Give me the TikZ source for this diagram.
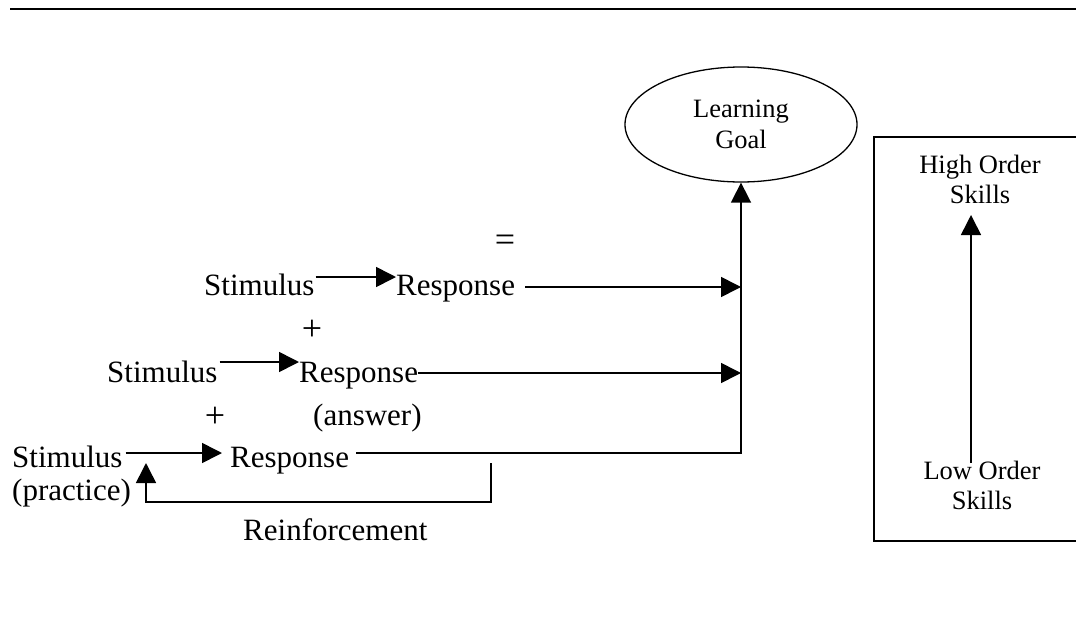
\documentclass[tikz,border=0pt]{standalone}
\usepackage{fontspec}
\setmainfont{Liberation Serif}
\usetikzlibrary{arrows.meta,shapes.geometric,calc}
\begin{document}
\begin{tikzpicture}[x=1pt,y=-1pt,
  big/.style={inner sep=0pt,font=\fontsize{31}{36}\selectfont},
  small/.style={inner sep=0pt,align=center,font=\fontsize{26.5}{30}\selectfont},
  sign/.style={inner sep=0pt,font=\fontsize{36}{40}\selectfont},
  conn/.style={line width=1.6pt},
  arr/.style={conn,-{Triangle[length=20pt,width=20pt]}}]
\useasboundingbox (0,0) rectangle (1076,629);

% heading rule
\draw[line width=2.4pt] (10,9) -- (1076,9);

% goal
\node[ellipse,draw,line width=1.3pt,minimum width=232pt,minimum height=115pt,small] (goal) at (741,124.5) {Learning\\[1pt]Goal};

% three stimulus-response rows
\node[big,anchor=base west] (s1) at (204,295) {Stimulus};
\node[big,anchor=base west] (r1) at (396,295) {Response};
\node[big,anchor=base west] (s2) at (107,382) {Stimulus};
\node[big,anchor=base west] (r2) at (299,382) {Response};
\node[big,anchor=base west] (s3) at (12,467) {Stimulus};
\node[big,anchor=base west] (r3) at (230,467) {Response};
\node[big,anchor=base west] (pr) at (12,500) {(practice)};
\node[big,anchor=base west] (an) at (313,425) {(answer)};
\node[big,anchor=base west] (rf) at (243,540) {Reinforcement};

\node[sign] (eq) at (505,243) {=};
\node[sign] (p1) at (312,330) {+};
\node[sign] (p2) at (215,417) {+};

% stimulus -> response
\draw[arr] ($(s1.base east)+(1,-18)$) -- ($(r1.base west)+(0,-18)$);
\draw[arr] ($(s2.base east)+(2,-20)$) -- ($(r2.base west)+(0,-20)$);
\draw[arr] ($(s3.base east)+(3,-14)$) -- ($(r3.base west)+(-8,-14)$);

% responses feeding the goal
\coordinate (j1) at (741,287);
\coordinate (j2) at (741,373);
\coordinate (j3) at (741,453);
\draw[arr] ($(r1.base east)+(10,-8)$) -- (j1);
\draw[arr] ($(r2.base east)+(0,-9)$) -- (j2);
\draw[arr] ($(r3.base east)+(7,-14)$) -- (j3) -- (goal.south);

% reinforcement loop
\coordinate (fb) at (491,463);
\coordinate (fs) at (146,463);
\draw[arr] (fb) -- (491,502) -- (146,502) -- (fs);

% skills panel
\draw[conn] (1076,137) -- (874,137) -- (874,541) -- (1076,541);
\node[small] (hi) at (980,179) {High Order\\Skills};
\node[small] (lo) at (982,485) {Low Order\\Skills};
\coordinate (lo1) at (971,463);
\coordinate (hi1) at (971,215);
\draw[arr] (lo1) -- (hi1);
\end{tikzpicture}
\end{document}
